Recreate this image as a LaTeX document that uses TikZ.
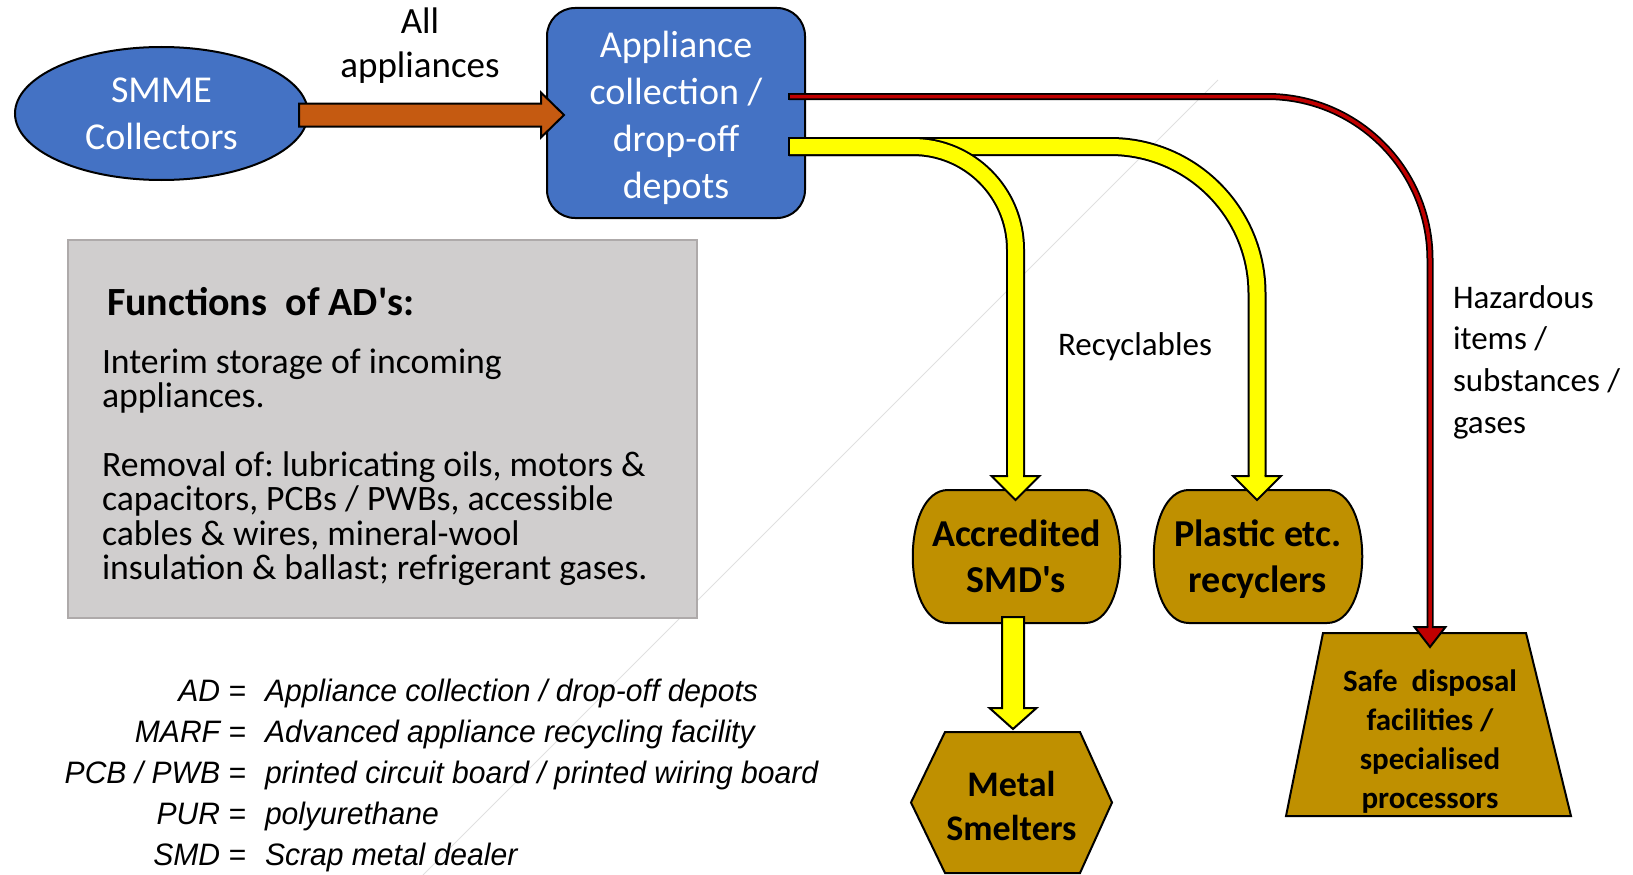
\documentclass[tikz,border=0pt]{standalone}
\usepackage{fontspec}
\setmainfont{Carlito}
\newfontfamily\legendfont{Liberation Sans}[FakeStretch=0.97]
\usetikzlibrary{calc,backgrounds,shapes.geometric}
\frenchspacing

\definecolor{depotblue}{HTML}{4472C4}
\definecolor{flowbrown}{HTML}{C55A11}
\definecolor{facgold}{HTML}{BF9000}
\definecolor{pipeyellow}{HTML}{FFFF00}
\definecolor{hazred}{HTML}{C00000}
\definecolor{panelgrey}{HTML}{D0CECE}
\definecolor{paneledge}{HTML}{AEAAAA}

\begin{document}
\begin{tikzpicture}[x=1pt,y=-1pt,
  every node/.style={outer sep=0pt},
  outline/.style={draw=black,line width=2pt},
  bluebox/.style={outline,fill=depotblue,inner sep=0pt},
  bluetext/.style={text=white,align=center,inner sep=0pt,font=\fontsize{38}{47}\selectfont},
  facility/.style={align=center,inner sep=0pt,font=\bfseries\fontsize{38}{46}\selectfont},
  facshape/.style={outline,fill=facgold,line join=round},
  flowtext/.style={align=center,inner sep=0pt,font=\fontsize{33}{41.7}\selectfont},
  bodyline/.style={anchor=base west,inner sep=0pt,font=\fontsize{35.7}{35}\selectfont},
  legkey/.style={anchor=base east,inner sep=0pt,font=\legendfont\itshape\fontsize{31}{41}\selectfont},
  legdef/.style={anchor=base west,inner sep=0pt,font=\legendfont\itshape\fontsize{31}{41}\selectfont},
  blockarrow/.style={outline,line join=miter},
  yellowpipe/.style={draw=pipeyellow,line width=15pt,preaction={draw=black,line width=19pt}},
  redpipe/.style={draw=hazred,line width=3.5pt,preaction={draw=black,line width=7pt}},
]
\useasboundingbox (0,0) rectangle (1633,875);

% faint diagonal rule in the background
\draw[black!12,line width=1pt] (1218,80) -- (423,875);

% panel listing the functions of the depots
\node[draw=paneledge,fill=panelgrey,line width=2.5pt,minimum width=629pt,
  minimum height=378pt,inner sep=0pt] (panel) at (382.5,429) {};
\node[anchor=base west,inner sep=0pt,font=\bfseries\fontsize{40}{48}\selectfont]
  (paneltitle) at (107,315) {Functions\ \ of AD\textquotesingle s:};
\node[bodyline] (body1) at (102,373)   {Interim storage of incoming};
\node[bodyline] (body2) at (102,407.5) {appliances.};
\node[bodyline] (body3) at (102,476)   {Removal of: lubricating oils, motors \&};
\node[bodyline] (body4) at (102,510.5) {capacitors, PCBs / PWBs, accessible};
\node[bodyline] (body5) at (102,545)   {cables \& wires, mineral-wool};
\node[bodyline] (body6) at (102,579.5) {insulation \& ballast; refrigerant gases.};

% abbreviations
\node[legkey] (key1) at (246,701) {AD =};
\node[legdef] (def1) at (265,701) {Appliance collection / drop-off depots};
\node[legkey] (key2) at (246,742) {MARF =};
\node[legdef] (def2) at (265,742) {Advanced appliance recycling facility};
\node[legkey] (key3) at (246,783) {PCB / PWB =};
\node[legdef] (def3) at (265,783) {printed circuit board / printed wiring board};
\node[legkey] (key4) at (246,824) {PUR =};
\node[legdef] (def4) at (265,824) {polyurethane};
\node[legkey] (key5) at (246,865) {SMD =};
\node[legdef] (def5) at (265,865) {Scrap metal dealer};

% collectors and depots
\node[bluebox,ellipse,minimum width=293pt,minimum height=133pt] (smme) at (161.5,113.5) {};
\node[bluetext] (smmetext) at (161.5,113.5) {SMME\\Collectors};
\node[bluebox,rounded corners=28pt,minimum width=258pt,minimum height=210pt] (depot)
  at (676,113) {};
\node[bluetext] (depottext) at (676,118) {Appliance\\collection /\\drop-off\\depots};
\node[flowtext,font=\fontsize{37}{44}\selectfont] (allapp) at (420,46) {All\\appliances};

% receiving facilities
\node[facility,minimum width=207pt,minimum height=133pt] (smd) at (1016.5,556.5)
  {Accredited\\SMD\textquotesingle s};
\node[minimum width=208pt,minimum height=133pt,inner sep=0pt] (plastic) at (1258,556.5) {};
\node[facility] (plastictext) at (1258,559) {Plastic etc.\\recyclers};
\node[minimum width=201pt,minimum height=141pt,inner sep=0pt] (metal) at (1011.5,802.5) {};
\node[facility,font=\bfseries\fontsize{36}{44}\selectfont] (metaltext) at (1011.5,806)
  {Metal\\Smelters};
\node[minimum width=285pt,minimum height=183pt,inner sep=0pt] (safe) at (1428.5,724.5) {};
\node[facility,font=\bfseries\fontsize{31}{39}\selectfont] (safetext) at (1430,741.5)
  {Safe\ \ disposal\\facilities /\\specialised\\processors};

\begin{scope}[on background layer]
  \path[facshape] ($(smd.north west)+(35,0)$) -- ($(smd.north east)+(-35,0)$)
    .. controls ($(smd.north east)+(12,0)$) and ($(smd.south east)+(12,0)$) .. ($(smd.south east)+(-35,0)$)
    -- ($(smd.south west)+(35,0)$)
    .. controls ($(smd.south west)+(-12,0)$) and ($(smd.north west)+(-12,0)$) .. cycle;
  \path[facshape] ($(plastic.north west)+(35,0)$) -- ($(plastic.north east)+(-35,0)$)
    .. controls ($(plastic.north east)+(12,0)$) and ($(plastic.south east)+(12,0)$) .. ($(plastic.south east)+(-35,0)$)
    -- ($(plastic.south west)+(35,0)$)
    .. controls ($(plastic.south west)+(-12,0)$) and ($(plastic.north west)+(-12,0)$) .. cycle;
  \path[facshape,line join=miter] ($(metal.north west)+(34,0)$) -- ($(metal.north east)+(-32,0)$)
    -- (metal.east) -- ($(metal.south east)+(-32,0)$) -- ($(metal.south west)+(34,0)$)
    -- (metal.west) -- cycle;
  \path[facshape,line join=miter] ($(safe.north west)+(37,0)$) -- ($(safe.north east)+(-45,0)$)
    -- (safe.south east) -- (safe.south west) -- cycle;
\end{scope}

% all appliances go to the depots
\coordinate (ain) at ($(smme.east)+(-9,1.5)$);
\coordinate (atip) at ($(depot.west)+(17,2)$);
\draw[blockarrow,fill=flowbrown] ($(ain)+(0,-11.5)$) -- ($(atip)+(-23,-11.5)$)
  -- ($(atip)+(-23,-22.5)$) -- (atip) -- ($(atip)+(-23,22.5)$)
  -- ($(atip)+(-23,11.5)$) -- ($(ain)+(0,11.5)$) -- cycle;

% outflows from the depots
\coordinate (hazout) at ($(depot.east)+(-16,-16.5)$);
\coordinate (recout) at ($(depot.east)+(-16,33.5)$);
\coordinate (haztip) at ($(safe.north)+(1.5,14)$);
\coordinate (smdtip) at ($(smd.north)+(-1,10)$);
\coordinate (plastictip) at ($(plastic.north)+(-1,10)$);

\draw[redpipe,rounded corners=163pt] (hazout) -| ($(haztip)+(0,-18)$);
\draw[black,line width=1.75pt] ($(hazout)+(0,-3.5)$) -- ($(hazout)+(0,3.5)$);
\draw[outline,fill=hazred] ($(haztip)+(-1.75,-20)$) -- ($(haztip)+(-15.5,-20)$) -- (haztip)
  -- ($(haztip)+(15.5,-20)$) -- ($(haztip)+(1.75,-20)$);

\draw[yellowpipe,rounded corners=147pt] (recout) -| ($(plastictip)+(0,-22)$);
\draw[yellowpipe,rounded corners=103pt] (recout) -| ($(smdtip)+(0,-22)$);
\draw[black,line width=2pt] ($(recout)+(0,-9.5)$) -- ($(recout)+(0,9.5)$);
\draw[outline,fill=pipeyellow] ($(smdtip)+(-7.5,-24)$) -- ($(smdtip)+(-24,-24)$) -- (smdtip)
  -- ($(smdtip)+(24,-24)$) -- ($(smdtip)+(7.5,-24)$);
\draw[outline,fill=pipeyellow] ($(plastictip)+(-7.5,-24)$) -- ($(plastictip)+(-24,-24)$) -- (plastictip)
  -- ($(plastictip)+(24,-24)$) -- ($(plastictip)+(7.5,-24)$);

% scrap metal dealers pass metal on to the smelters
\coordinate (metalin) at ($(smd.south)+(-3.5,-6)$);
\coordinate (metaltip) at ($(metal.north)+(1.5,-3)$);
\draw[blockarrow,fill=pipeyellow] ($(metalin)+(-11,0)$) -- ($(metalin)+(11,0)$)
  -- ($(metaltip)+(11,-21)$) -- ($(metaltip)+(23.5,-21)$) -- (metaltip)
  -- ($(metaltip)+(-23.5,-21)$) -- ($(metaltip)+(-11,-21)$) -- cycle;

% flow labels
\node[flowtext] (recyc) at (1135,347) {Recyclables};
\node[flowtext,align=left,anchor=west] (haz) at (1453,362)
  {Hazardous\\items /\\substances /\\gases};
\end{tikzpicture}
\end{document}
